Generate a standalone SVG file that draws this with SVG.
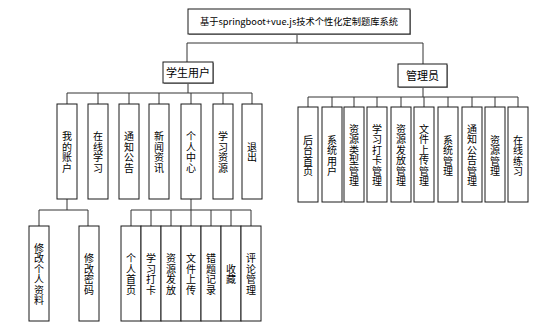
<svg xmlns="http://www.w3.org/2000/svg" width="557" height="330" viewBox="0 0 557 330">
<style>
.box{fill:#fff;stroke:#1a1a1a;stroke-width:1}
.sh{fill:#9a9a9a}
.ln{stroke:#333;stroke-width:1;fill:none}
.t{font-family:"Noto Sans CJK SC","Noto Sans",sans-serif;font-size:11px;fill:#000;text-anchor:middle}
.v{font-family:"Noto Sans CJK SC","Noto Sans",sans-serif;font-size:10px;fill:#000;text-anchor:middle;dominant-baseline:central}
</style>
<rect width="557" height="330" fill="#fff"/>
<g id="connectors" class="ln">
<path d="M297,34V43M187,43H423M187,43V62M423,43V64"/>
<path d="M188,83V93M67,93H252M67,93V104M98,93V104M129,93V104M159,93V104M191,93V104M223,93V104M252,93V104"/>
<path d="M423,87V97M308,97H518M308,97V107M332,97V107M354,97V107M377,97V107M401,97V107M424,97V107M448,97V107M472,97V107M495,97V107M518,97V107"/>
<path d="M67,199V210M39,210H88M39,210V226M88,210V226"/>
<path d="M191,199V210M131,210H251M131,210V226M151,210V226M171,210V226M191,210V226M211,210V226M231,210V226M251,210V226"/>
</g>
<g id="root"><rect class="sh" x="189" y="10" width="222" height="25"/><rect class="box" x="188" y="9" width="222" height="25"/><text class="t" x="299" y="25" style="font-size:9px" textLength="198" lengthAdjust="spacingAndGlyphs">基于springboot+vue.js技术个性化定制题库系统</text></g>
<g id="student"><rect class="sh" x="164" y="63" width="50" height="21"/><rect class="box" x="163" y="62" width="50" height="21"/><text class="t" x="188" y="76.5">学生用户</text></g>
<g id="admin"><rect class="sh" x="399" y="65" width="49" height="23"/><rect class="box" x="398" y="64" width="49" height="23"/><text class="t" x="422.5" y="79.5">管理员</text></g>

<g id="s1"><rect class="box" x="57" y="104" width="20" height="95"/><text class="v" x="67 67 67 67" y="135.75 146.25 156.75 167.25">我的账户</text></g>
<g id="s2"><rect class="box" x="88" y="104" width="20" height="95"/><text class="v" x="98 98 98 98" y="135.75 146.25 156.75 167.25">在线学习</text></g>
<g id="s3"><rect class="box" x="119" y="104" width="20" height="95"/><text class="v" x="129 129 129 129" y="135.75 146.25 156.75 167.25">通知公告</text></g>
<g id="s4"><rect class="box" x="149" y="104" width="20" height="95"/><text class="v" x="159 159 159 159" y="135.75 146.25 156.75 167.25">新闻资讯</text></g>
<g id="s5"><rect class="box" x="181" y="104" width="20" height="95"/><text class="v" x="191 191 191 191" y="135.75 146.25 156.75 167.25">个人中心</text></g>
<g id="s6"><rect class="box" x="213" y="104" width="20" height="95"/><text class="v" x="223 223 223 223" y="135.75 146.25 156.75 167.25">学习资源</text></g>
<g id="s7"><rect class="box" x="242" y="104" width="20" height="95"/><text class="v" x="252 252" y="146.25 156.75">退出</text></g>

<g id="a1"><rect class="box" x="298" y="107" width="20" height="95"/><text class="v" x="308 308 308 308" y="139.25 149.75 160.25 170.75">后台首页</text></g>
<g id="a2"><rect class="box" x="322" y="107" width="20" height="95"/><text class="v" x="332 332 332 332" y="139.25 149.75 160.25 170.75">系统用户</text></g>
<g id="a3"><rect class="box" x="344" y="107" width="20" height="95"/><text class="v" x="354 354 354 354 354 354" y="128.25 138.75 149.25 159.75 170.25 180.75">资源类型管理</text></g>
<g id="a4"><rect class="box" x="367" y="107" width="20" height="95"/><text class="v" x="377 377 377 377 377 377" y="128.25 138.75 149.25 159.75 170.25 180.75">学习打卡管理</text></g>
<g id="a5"><rect class="box" x="391" y="107" width="20" height="95"/><text class="v" x="401 401 401 401 401 401" y="128.25 138.75 149.25 159.75 170.25 180.75">资源发放管理</text></g>
<g id="a6"><rect class="box" x="414" y="107" width="20" height="95"/><text class="v" x="424 424 424 424 424 424" y="128.25 138.75 149.25 159.75 170.25 180.75">文件上传管理</text></g>
<g id="a7"><rect class="box" x="438" y="107" width="20" height="95"/><text class="v" x="448 448 448 448" y="139.25 149.75 160.25 170.75">系统管理</text></g>
<g id="a8"><rect class="box" x="462" y="107" width="20" height="95"/><text class="v" x="472 472 472 472 472 472" y="128.25 138.75 149.25 159.75 170.25 180.75">通知公告管理</text></g>
<g id="a9"><rect class="box" x="485" y="107" width="20" height="95"/><text class="v" x="495 495 495 495" y="139.25 149.75 160.25 170.75">资源管理</text></g>
<g id="a10"><rect class="box" x="508" y="107" width="20" height="95"/><text class="v" x="518 518 518 518" y="139.25 149.75 160.25 170.75">在线练习</text></g>

<g id="m1"><rect class="box" x="29" y="226" width="20" height="95"/><text class="v" x="39 39 39 39 39 39" y="247.25 257.75 268.25 278.75 289.25 299.75">修改个人资料</text></g>
<g id="m2"><rect class="box" x="79" y="226" width="20" height="95"/><text class="v" x="89 89 89 89" y="257.75 268.25 278.75 289.25">修改密码</text></g>

<g id="p1"><rect class="box" x="121" y="226" width="20" height="95"/><text class="v" x="131 131 131 131" y="257.75 268.25 278.75 289.25">个人首页</text></g>
<g id="p2"><rect class="box" x="141" y="226" width="20" height="95"/><text class="v" x="151 151 151 151" y="257.75 268.25 278.75 289.25">学习打卡</text></g>
<g id="p3"><rect class="box" x="161" y="226" width="20" height="95"/><text class="v" x="171 171 171 171" y="257.75 268.25 278.75 289.25">资源发放</text></g>
<g id="p4"><rect class="box" x="181" y="226" width="20" height="95"/><text class="v" x="191 191 191 191" y="257.75 268.25 278.75 289.25">文件上传</text></g>
<g id="p5"><rect class="box" x="201" y="226" width="20" height="95"/><text class="v" x="211 211 211 211" y="257.75 268.25 278.75 289.25">错题记录</text></g>
<g id="p6"><rect class="box" x="221" y="226" width="20" height="95"/><text class="v" x="231 231" y="268.25 278.75">收藏</text></g>
<g id="p7"><rect class="box" x="241" y="226" width="20" height="95"/><text class="v" x="251 251 251 251" y="257.75 268.25 278.75 289.25">评论管理</text></g>
</svg>
